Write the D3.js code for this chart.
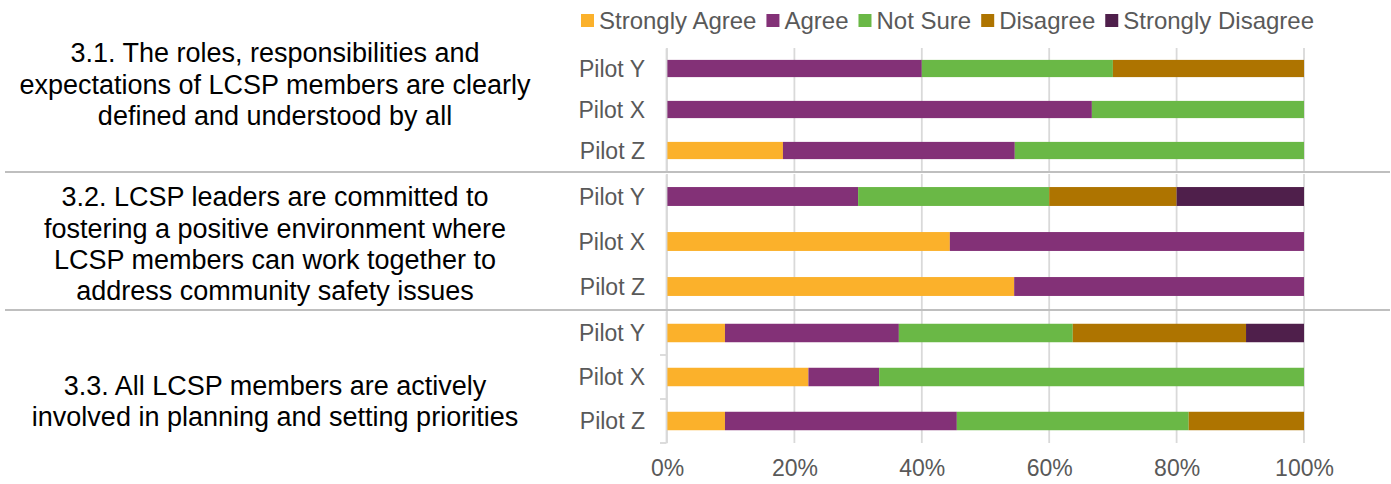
<!DOCTYPE html>
<html>
<head>
<meta charset="utf-8">
<script src="https://cdn.jsdelivr.net/npm/d3@7"></script>
<style>
  html, body { margin: 0; padding: 0; background: #fff; }
  svg { display: block; font-family: "Liberation Sans", Arial, sans-serif; }
</style>
</head>
<body>
<svg id="chart" width="1391" height="484"></svg>
<script>
// ---- Data ----
const responses = ["Strongly Agree", "Agree", "Not Sure", "Disagree", "Strongly Disagree"];
const pilots = ["Pilot Y", "Pilot X", "Pilot Z"];
const questions = [
  ["3.1. The roles, responsibilities and", "expectations of LCSP members are clearly", "defined and understood by all"],
  ["3.2. LCSP leaders are committed to", "fostering a positive environment where", "LCSP members can work together to", "address community safety issues"],
  ["3.3. All LCSP members are actively", "involved in planning and setting priorities"]
];
// percentages per question (rows) per pilot (Y, X, Z)
const stronglyAgree    = [[0, 0, 18.2], [0, 44.4, 54.5], [9.1, 22.2, 9.1]];
const agree            = [[40, 66.7, 36.4], [30, 55.6, 45.5], [27.3, 11.1, 36.4]];
const notSure          = [[30, 33.3, 45.4], [30, 0, 0], [27.3, 66.7, 36.4]];
const disagree         = [[30, 0, 0], [20, 0, 0], [27.2, 0, 18.1]];
const stronglyDisagree = [[0, 0, 0], [20, 0, 0], [9.1, 0, 0]];
const tickValues = [0, 0.2, 0.4, 0.6, 0.8, 1.0];
const colors = ["#FBB12B", "#833177", "#6AB846", "#AE7400", "#4F1F4B"];

// ---- Layout ----
const svg = d3.select("#chart");
const x = d3.scaleLinear().domain([0, 100]).range([667, 1304]);
const xt = d3.scaleLinear().domain([0, 1]).range([667, 1304]);
const groupRanges = [[48, 171], [174, 309], [311, 443]];
const labelLines = [[52, 84, 115], [196, 228, 259, 290], [385, 416]];
const seriesArrays = [stronglyAgree, agree, notSure, disagree, stronglyDisagree];
const color = d3.scaleOrdinal().domain(responses).range(colors);

questions.forEach((q, gi) => {
  const [y0, y1] = groupRanges[gi];
  const y = d3.scaleBand().domain(pilots).range([y0, y1]).paddingInner(0.58).paddingOuter(0.29);
  const g = svg.append("g");

  // gridlines
  g.selectAll("line.grid").data(tickValues).join("line")
    .attr("x1", d => xt(d)).attr("x2", d => xt(d))
    .attr("y1", y0).attr("y2", y1)
    .attr("stroke", "#d9d9d9").attr("stroke-width", 1.8);

  // rows
  const rows = pilots.map((p, pi) => {
    const r = { pilot: p };
    responses.forEach((resp, ri) => r[resp] = seriesArrays[ri][gi][pi]);
    return r;
  });
  const stacked = d3.stack().keys(responses)(rows);
  g.selectAll("g.series").data(stacked).join("g")
    .attr("fill", d => color(d.key))
    .selectAll("rect").data(d => d).join("rect")
    .attr("x", d => x(d[0]))
    .attr("width", d => Math.max(0, x(d[1]) - x(d[0])))
    .attr("y", d => y(d.data.pilot))
    .attr("height", y.bandwidth());

  // category axis
  const axis = d3.axisLeft(y).tickSize(0).tickPadding(21);
  const ag = g.append("g").attr("transform", "translate(666,0)").call(axis);
  ag.select(".domain").attr("stroke", "#d9d9d9").attr("stroke-width", 1.8);
  ag.selectAll("text").attr("font-size", 23).attr("fill", "#595959")
    .attr("font-family", "Liberation Sans, Arial, sans-serif").attr("dy", "0.36em");

  if (gi === 2) {
    const bounds = [y0 - 1, y0 + y.step(), y0 + 2 * y.step(), y1];
    g.selectAll("line.tk").data(bounds).join("line")
      .attr("x1", 660).attr("x2", 666).attr("y1", d => d).attr("y2", d => d)
      .attr("stroke", "#d9d9d9").attr("stroke-width", 1.8);
  }

  // question label
  const t = g.append("text").attr("text-anchor", "middle")
    .attr("font-size", 27).attr("fill", "#000");
  q.forEach((line, li) => {
    t.append("tspan").attr("x", 275).attr("y", labelLines[gi][li]).attr("dy", "0.36em").text(line);
  });
});

// separators
svg.selectAll("line.sep").data([172, 310]).join("line")
  .attr("x1", 5).attr("x2", 1390).attr("y1", d => d).attr("y2", d => d)
  .attr("stroke", "#bfbfbf").attr("stroke-width", 1.8);

// x axis labels
const xa = d3.axisBottom(xt).tickValues(tickValues).tickFormat(d3.format(".0%")).tickSize(0).tickPadding(0);
const xg = svg.append("g").attr("transform", "translate(0,453)").call(xa);
xg.select(".domain").remove();
xg.selectAll("text").attr("font-size", 23).attr("fill", "#595959")
  .attr("font-family", "Liberation Sans, Arial, sans-serif").attr("dy", "1em");

// legend
const leg = svg.append("g");
let lx = 581;
responses.forEach(r => {
  leg.append("rect").attr("x", lx).attr("y", 14).attr("width", 13).attr("height", 13).attr("fill", color(r));
  const tx = leg.append("text").attr("x", lx + 18).attr("y", 29)
    .attr("font-size", 24).attr("fill", "#595959").text(r);
  lx += 18 + tx.node().getComputedTextLength() + 10;
});
</script>
</body>
</html>
